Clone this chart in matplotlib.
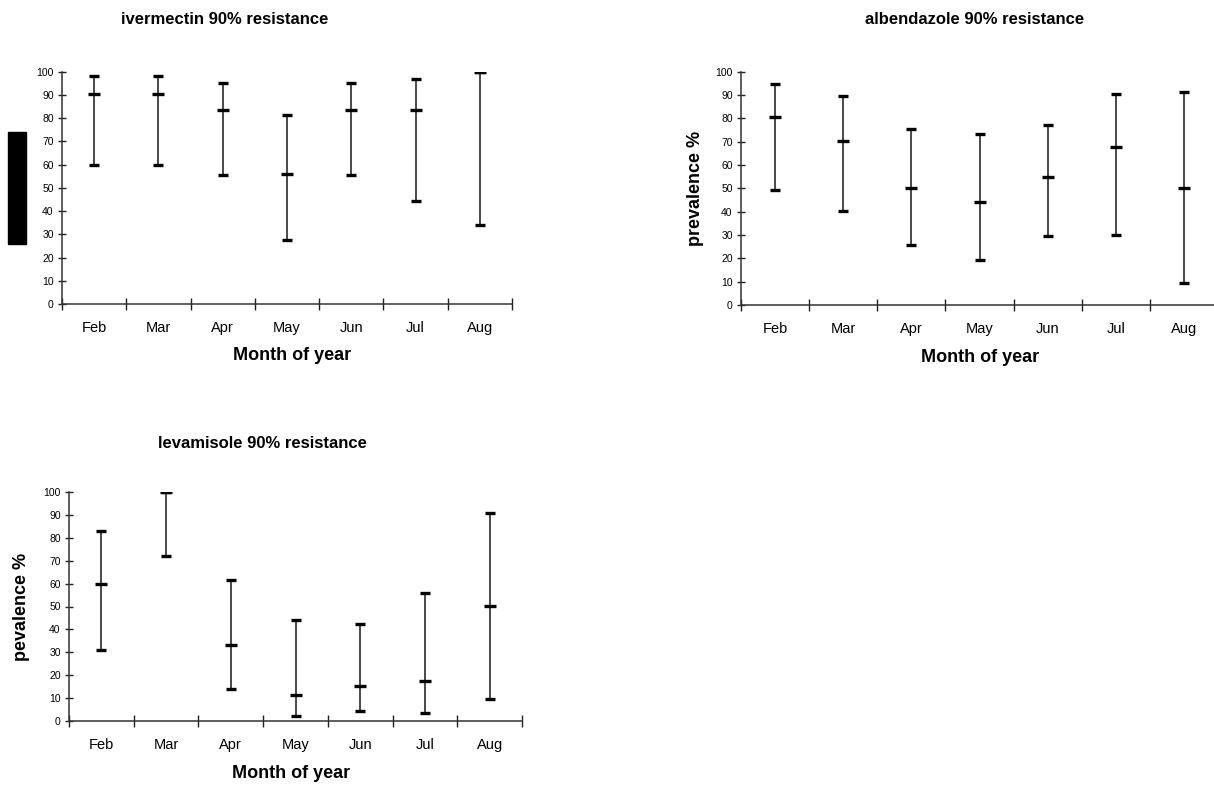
import matplotlib
matplotlib.use("Agg")
import matplotlib.pyplot as plt
from matplotlib.patches import Rectangle

plt.rcParams['font.family'] = ['Liberation Sans', 'DejaVu Sans']

months = ["Feb", "Mar", "Apr", "May", "Jun", "Jul", "Aug"]

# ivermectin 90% resistance
iver_mid = [90.5, 90.5, 83.3, 56.0, 83.3, 83.3, 100.0]
iver_high = [98.3, 98.3, 95.0, 81.3, 95.0, 97.0, 100.0]
iver_low = [60.0, 60.0, 55.4, 27.4, 55.4, 44.3, 34.0]

# albendazole 90% resistance
alb_mid = [80.4, 70.3, 50.1, 44.3, 54.7, 67.6, 50.1]
alb_high = [94.8, 89.6, 75.3, 73.4, 77.3, 90.3, 91.4]
alb_low = [49.4, 40.4, 25.6, 19.1, 29.6, 30.1, 9.6]

# levamisole 90% resistance
lev_mid = [60.0, 100.0, 33.0, 11.4, 15.3, 17.3, 50.2]
lev_high = [83.1, 100.0, 61.6, 44.3, 42.2, 56.0, 91.0]
lev_low = [31.1, 71.9, 14.0, 2.2, 4.2, 3.5, 9.5]

yticks = list(range(0, 101, 10))

W, H = 1214, 785
fig = plt.figure(figsize=(W / 100, H / 100), dpi=100)


def px_axes(left, right, top, bottom):
    return fig.add_axes([left / W, 1 - bottom / H, (right - left) / W, (bottom - top) / H])


def draw_panel(ax, mid, high, low, title, ylabel, title_xy, xlabel_y, ylabel_xy, xlabel_x=None):
    xs = [i + 0.5 for i in range(len(months))]
    ax.vlines(xs, low, high, color='#3a3a3a', lw=1.3, zorder=2)
    ax.plot(xs, high, ls='none', marker='_', ms=6.5, mew=2.4, color='black', zorder=3)
    ax.plot(xs, low, ls='none', marker='_', ms=6.5, mew=2.4, color='black', zorder=3)
    ax.plot(xs, mid, ls='none', marker='_', ms=8, mew=2.4, color='black', zorder=3)
    ax.set_xlim(0, len(months))
    ax.set_ylim(0, 100)
    ax.set_yticks(yticks)
    ax.set_yticklabels([str(v) for v in yticks], fontsize=7.5)
    ax.set_xticks(range(0, len(months) + 1))
    ax.set_xticklabels([])
    for x, m in zip(xs, months):
        ax.annotate(m, xy=(x, 0), xycoords=('data', 'axes fraction'),
                    xytext=(0, -28 * 0.72), textcoords='offset points',
                    ha='center', va='baseline', fontsize=10.5)
    ax.tick_params(axis='x', which='major', direction='inout', length=8, width=1, color='#222')
    ax.tick_params(axis='y', direction='inout', length=6, width=1, color='#222', pad=3)
    for s in ['top', 'right']:
        ax.spines[s].set_visible(False)
    for s in ['left', 'bottom']:
        ax.spines[s].set_color('#333')
        ax.spines[s].set_linewidth(1.1)
    ax.set_facecolor('none')
    fig.text(title_xy[0] / W, 1 - title_xy[1] / H, title, ha='center', va='center',
             fontsize=12, fontweight='bold')
    if xlabel_x is None:
        cx = (ax.get_position().x0 + ax.get_position().x1) / 2
    else:
        cx = xlabel_x / W
    fig.text(cx, 1 - xlabel_y / H, "Month of year", ha='center', va='center',
             fontsize=13, fontweight='bold')
    if ylabel:
        fig.text(ylabel_xy[0] / W, 1 - ylabel_xy[1] / H, ylabel, ha='center', va='center',
                 rotation=90, fontsize=13, fontweight='bold')


ax1 = px_axes(62, 512, 71.7, 304)
draw_panel(ax1, iver_mid, iver_high, iver_low, "ivermectin 90% resistance", None,
           (225, 19), 356, None, 292)
ax2 = px_axes(741, 1218, 71.7, 305)
draw_panel(ax2, alb_mid, alb_high, alb_low, "albendazole 90% resistance", "prevalence %",
           (975, 19), 358, (695, 188), 980)
ax3 = px_axes(69, 522, 492, 721)
draw_panel(ax3, lev_mid, lev_high, lev_low, "levamisole 90% resistance", "pevalence %",
           (262, 443), 773, (22, 607), 291)

# redaction block at the left of the first panel
fig.patches.append(Rectangle((8 / W, 1 - 243.5 / H), 18 / W, 111.5 / H,
                             transform=fig.transFigure, color='black', zorder=5))

fig.savefig("out.png", dpi=100, facecolor='white')
